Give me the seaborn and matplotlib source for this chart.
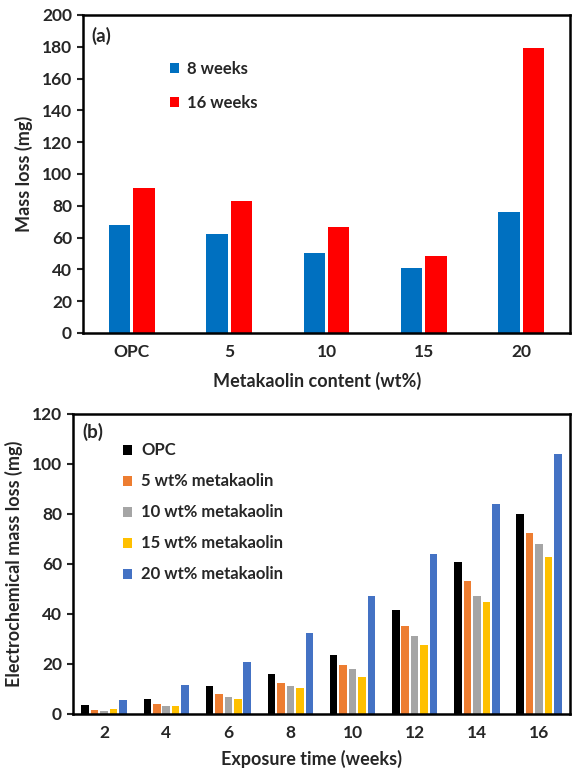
import matplotlib
matplotlib.use("Agg")
import matplotlib.pyplot as plt
import seaborn as sns
import pandas as pd

# ---- data (a) ----
contents = ["OPC", "5", "10", "15", "20"]
loss_8w = [68, 62, 50, 41, 76]
loss_16w = [91, 83, 66.5, 48.5, 179]

# ---- data (b) ----
weeks = ["2", "4", "6", "8", "10", "12", "14", "16"]
opc = [3.6, 6.1, 11.2, 15.9, 23.4, 41.7, 60.8, 79.9]
mk5 = [1.4, 4.0, 7.9, 12.3, 19.4, 35.0, 53.0, 72.4]
mk10 = [1.3, 3.0, 6.6, 11.0, 18.1, 31.1, 47.0, 67.9]
mk15 = [2.0, 3.0, 5.9, 10.3, 14.7, 27.5, 44.7, 62.8]
mk20 = [5.7, 11.5, 20.9, 32.3, 47.3, 64.0, 84.1, 104.0]
series_b = ["OPC", "5 wt% metakaolin", "10 wt% metakaolin", "15 wt% metakaolin", "20 wt% metakaolin"]

sns.set_theme(style="white")
FONT = ['Lato', 'DejaVu Sans']
plt.rcParams['font.family'] = FONT
plt.rcParams['font.weight'] = 'bold'
plt.rcParams['axes.labelweight'] = 'bold'

fig = plt.figure(figsize=(5.74, 7.76), dpi=100)
ax1 = fig.add_axes([0.1446, 0.5709, 0.8484, 0.4098])
ax2 = fig.add_axes([0.1272, 0.0799, 0.8659, 0.3866])

# panel a
df_a = pd.DataFrame({
    "content": contents * 2,
    "loss": loss_8w + loss_16w,
    "series": ["8 weeks"] * len(contents) + ["16 weeks"] * len(contents),
})
sns.barplot(data=df_a, x="content", y="loss", hue="series", order=contents,
            palette=["#0070C0", "#FF0000"], width=0.5, gap=0.12,
            saturation=1, ax=ax1, edgecolor="none", linewidth=0)
ax1.set_ylim(0, 200)
ax1.set_yticks(range(0, 201, 20))
ax1.set_ylabel("Mass loss (mg)", fontsize=13, fontweight='bold', labelpad=6)
ax1.set_xlabel("Metakaolin content (wt%)", fontsize=13, fontweight='bold')
ax1.xaxis.set_label_coords(0.48, -0.122)
ax1.text(0.018, 0.934, "(a)", transform=ax1.transAxes, fontsize=13.5, fontweight='bold', va='center')
ax1.legend(loc="upper left", bbox_to_anchor=(0.1786, 0.856), frameon=False,
           prop={'family': FONT, 'weight': 'bold', 'size': 12},
           labelspacing=1.07, handlelength=0.55, handleheight=0.55,
           handletextpad=0.5, borderpad=0, borderaxespad=0)

# panel b
rows = []
for name, vals in zip(series_b, [opc, mk5, mk10, mk15, mk20]):
    for w, v in zip(weeks, vals):
        rows.append({"week": w, "loss": v, "series": name})
df_b = pd.DataFrame(rows)
sns.barplot(data=df_b, x="week", y="loss", hue="series", order=weeks, hue_order=series_b,
            palette=["#000000", "#ED7D31", "#A5A5A5", "#FFC000", "#4472C4"],
            width=0.76, gap=0.2, saturation=1, ax=ax2, edgecolor="none", linewidth=0)
ax2.set_ylim(0, 120)
ax2.set_yticks(range(0, 121, 20))
ax2.set_ylabel("Electrochemical mass loss (mg)", fontsize=13, fontweight='bold', labelpad=6)
ax2.set_xlabel("Exposure time (weeks)", fontsize=13, fontweight='bold')
ax2.xaxis.set_label_coords(0.48, -0.118)
ax2.text(0.018, 0.94, "(b)", transform=ax2.transAxes, fontsize=13.5, fontweight='bold', va='center')
ax2.legend(loc="upper left", bbox_to_anchor=(0.1006, 0.905), frameon=False,
           prop={'family': FONT, 'weight': 'bold', 'size': 12},
           labelspacing=0.9, handlelength=0.55, handleheight=0.55,
           handletextpad=0.55, borderpad=0, borderaxespad=0)

for ax in (ax1, ax2):
    for s in ax.spines.values():
        s.set_visible(True)
        s.set_color("black")
        s.set_linewidth(1.8)
    ax.tick_params(axis='y', direction='out', length=4, width=1.5, left=True,
                   labelsize=12.5, pad=4)
    ax.tick_params(axis='x', length=0, labelsize=12.5, pad=8)
    for lab in ax.get_xticklabels() + ax.get_yticklabels():
        lab.set_fontweight('bold')

fig.savefig("out.png", dpi=100)
